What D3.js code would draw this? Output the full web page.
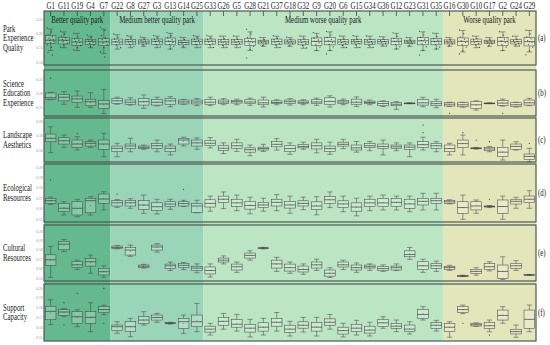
<!DOCTYPE html>
<html><head><meta charset="utf-8">
<script src="https://cdn.jsdelivr.net/npm/d3@7"></script>
<style>body{margin:0;background:#fff}</style>
</head><body><svg id="c" width="550" height="345"></svg>
<script>
const groups = ["G1","G11","G19","G4","G7","G22","G8","G27","G3","G13","G14","G25","G33","G26","G5","G28","G21","G37","G18","G32","G9","G20","G6","G15","G34","G36","G12","G23","G31","G35","G16","G30","G10","G17","G2","G24","G29"];
const regionNames = ["Better quality park","Medium better quality park","Medium worse quality park","Worse quality park"];
const regionCounts = [5,7,18,7];
const regionColors = ["#64ba8e","#9bd5b8","#bce5c4","#e3e5bb"];
const panelTitles = [["Park","Experience","Quality"],["Science","Education","Experience"],["Landscape","Aesthetics"],["Ecological","Resources"],["Cultural","Resources"],["Support","Capacity"]];
const panelTags = ["(a)","(b)","(c)","(d)","(e)","(f)"];
const panelTicks = [[0.10,0.15,0.20,0.25],[0.15,0.20,0.25],[0.16,0.18,0.20],[0.15,0.16,0.17,0.18,0.19,0.20],[0.15,0.16,0.17,0.18,0.19,0.20],[0.15,0.16,0.17,0.18,0.19,0.20]];

// [low whisker, q1, median, q3, high whisker] per park
const statsA = [[0.14,0.165,0.176,0.192,0.215],[0.15,0.163,0.176,0.186,0.205],[0.14,0.158,0.170,0.181,0.20],[0.15,0.162,0.172,0.179,0.19],[0.13,0.158,0.170,0.182,0.215],[0.145,0.160,0.170,0.180,0.195],[0.15,0.162,0.171,0.179,0.19],[0.155,0.163,0.170,0.177,0.185],[0.15,0.162,0.172,0.180,0.19],[0.145,0.160,0.172,0.184,0.20],[0.15,0.160,0.168,0.176,0.185],[0.15,0.162,0.172,0.180,0.19],[0.15,0.162,0.172,0.180,0.19],[0.15,0.160,0.170,0.178,0.19],[0.15,0.162,0.170,0.178,0.19],[0.14,0.158,0.171,0.182,0.205],[0.155,0.163,0.170,0.176,0.185],[0.15,0.162,0.171,0.180,0.19],[0.155,0.163,0.170,0.177,0.185],[0.148,0.160,0.170,0.179,0.19],[0.14,0.158,0.172,0.184,0.20],[0.14,0.160,0.172,0.185,0.205],[0.15,0.162,0.170,0.178,0.19],[0.15,0.163,0.171,0.178,0.19],[0.15,0.162,0.170,0.178,0.19],[0.155,0.163,0.171,0.178,0.188],[0.145,0.160,0.172,0.183,0.20],[0.155,0.164,0.170,0.176,0.185],[0.14,0.160,0.174,0.186,0.205],[0.145,0.160,0.172,0.182,0.20],[0.155,0.163,0.170,0.177,0.185],[0.135,0.158,0.172,0.184,0.21],[0.15,0.162,0.171,0.180,0.19],[0.155,0.164,0.170,0.176,0.185],[0.14,0.158,0.172,0.185,0.205],[0.155,0.163,0.171,0.178,0.19],[0.135,0.156,0.171,0.185,0.21]];
const pointsA = [[0.219,0.205,0.196,0.188,0.183,0.178,0.175,0.171,0.168,0.160,0.152,0.134,0.124],[0.208,0.197,0.190,0.184,0.179,0.175,0.171,0.166,0.160,0.152],[0.200,0.188,0.181,0.176,0.172,0.168,0.163,0.158,0.150,0.142],[0.194,0.186,0.180,0.176,0.173,0.169,0.165,0.160,0.153],[0.222,0.210,0.192,0.184,0.178,0.172,0.166,0.160,0.150,0.135,0.117],[0.198,0.186,0.180,0.175,0.171,0.166,0.160,0.150],[0.192,0.184,0.178,0.174,0.170,0.166,0.162,0.154],[0.188,0.180,0.176,0.172,0.169,0.165,0.160],[0.193,0.184,0.179,0.175,0.171,0.167,0.162,0.153],[0.203,0.192,0.184,0.178,0.173,0.168,0.162,0.155,0.146],[0.187,0.178,0.173,0.169,0.166,0.162,0.155],[0.192,0.184,0.179,0.175,0.171,0.167,0.161,0.152],[0.193,0.183,0.178,0.174,0.170,0.166,0.161,0.151],[0.190,0.181,0.176,0.172,0.168,0.164,0.158,0.151],[0.191,0.180,0.176,0.172,0.169,0.165,0.160,0.152],[0.214,0.198,0.186,0.180,0.174,0.169,0.163,0.155,0.144,0.114],[0.186,0.178,0.174,0.171,0.168,0.164,0.157],[0.192,0.183,0.178,0.173,0.169,0.165,0.159,0.151],[0.187,0.178,0.174,0.171,0.167,0.164,0.157],[0.191,0.181,0.176,0.172,0.168,0.164,0.158,0.149],[0.203,0.190,0.183,0.177,0.172,0.167,0.161,0.152,0.141],[0.207,0.194,0.186,0.179,0.174,0.168,0.162,0.153,0.141,0.128],[0.191,0.181,0.176,0.172,0.168,0.164,0.158,0.151],[0.192,0.180,0.176,0.172,0.169,0.165,0.160,0.151],[0.191,0.180,0.175,0.171,0.168,0.164,0.158,0.151],[0.189,0.179,0.175,0.172,0.169,0.165,0.159,0.156],[0.202,0.190,0.182,0.177,0.172,0.167,0.161,0.153,0.146],[0.186,0.177,0.173,0.170,0.167,0.164,0.156],[0.207,0.195,0.186,0.180,0.175,0.169,0.163,0.153,0.141,0.124],[0.201,0.189,0.181,0.176,0.171,0.166,0.161,0.152,0.146],[0.186,0.177,0.173,0.170,0.167,0.164,0.156],[0.212,0.199,0.187,0.180,0.174,0.168,0.162,0.152,0.140,0.128],[0.191,0.182,0.177,0.173,0.169,0.165,0.160,0.151],[0.186,0.177,0.173,0.170,0.167,0.164,0.156],[0.206,0.194,0.186,0.180,0.174,0.168,0.162,0.152,0.141],[0.190,0.180,0.175,0.172,0.168,0.165,0.160,0.156],[0.211,0.198,0.188,0.181,0.175,0.169,0.162,0.152,0.139,0.125]];

const statsB = [[0.176,0.178,0.183,0.200,0.202],[0.160,0.172,0.185,0.195,0.205],[0.149,0.167,0.179,0.189,0.207],[0.149,0.155,0.169,0.1775,0.201],[0.127,0.145,0.161,0.1725,0.213],[0.160,0.163,0.172,0.181,0.185],[0.157,0.160,0.167,0.175,0.183],[0.145,0.157,0.169,0.181,0.193],[0.154,0.157,0.167,0.1775,0.185],[0.151,0.160,0.172,0.181,0.187],[0.160,0.161,0.168,0.175,0.177],[0.155,0.161,0.168,0.175,0.180],[0.155,0.160,0.167,0.177,0.185],[0.158,0.163,0.168,0.175,0.180],[0.158,0.164,0.169,0.174,0.178],[0.156,0.162,0.168,0.176,0.182],[0.150,0.158,0.165,0.175,0.185],[0.158,0.162,0.166,0.172,0.176],[0.157,0.163,0.169,0.175,0.180],[0.158,0.163,0.167,0.172,0.176],[0.156,0.162,0.168,0.176,0.182],[0.150,0.160,0.170,0.183,0.190],[0.158,0.163,0.168,0.173,0.178],[0.152,0.160,0.167,0.178,0.186],[0.158,0.162,0.166,0.171,0.175],[0.152,0.1546,0.1625,0.169,0.172],[0.1418,0.1546,0.160,0.1668,0.169],[0.162,0.1625,0.1632,0.1643,0.165],[0.151,0.157,0.165,0.1775,0.1846],[0.1475,0.1546,0.162,0.1704,0.1775],[0.152,0.1536,0.160,0.1653,0.167],[0.149,0.151,0.158,0.1653,0.167],[0.139,0.1454,0.158,0.169,0.172],[0.162,0.1625,0.163,0.1643,0.165],[0.153,0.156,0.164,0.1725,0.1786],[0.150,0.151,0.158,0.1653,0.167],[0.155,0.157,0.165,0.175,0.181]];
const outliersB = [[0,0.253],[30,0.1275],[34,0.1275]];

const statsC = [[0.1562,0.1716,0.1764,0.1824,0.1926],[0.1638,0.1684,0.173,0.1772,0.181],[0.160,0.1638,0.1684,0.174,0.1786],[0.1638,0.1656,0.1694,0.1716,0.174],[0.1506,0.161,0.1684,0.174,0.1834],[0.1506,0.1576,0.1624,0.1656,0.1694],[0.1576,0.1624,0.1656,0.1684,0.1764],[0.161,0.1624,0.1638,0.1656,0.167],[0.1576,0.1624,0.166,0.1694,0.174],[0.153,0.1576,0.1624,0.1656,0.1684],[0.1656,0.1684,0.174,0.1764,0.178],[0.161,0.1656,0.170,0.174,0.177],[0.163,0.1665,0.1695,0.1735,0.1775],[0.155,0.1595,0.1625,0.166,0.170],[0.158,0.1625,0.166,0.170,0.175],[0.152,0.157,0.1605,0.163,0.167],[0.158,0.160,0.162,0.164,0.168],[0.160,0.1645,0.168,0.172,0.176],[0.154,0.158,0.162,0.166,0.170],[0.161,0.163,0.165,0.168,0.171],[0.156,0.1615,0.166,0.170,0.175],[0.154,0.158,0.162,0.1655,0.171],[0.162,0.1655,0.168,0.171,0.175],[0.157,0.160,0.163,0.167,0.172],[0.159,0.1635,0.166,0.169,0.172],[0.153,0.1624,0.165,0.1684,0.174],[0.159,0.1624,0.1645,0.167,0.170],[0.1506,0.161,0.164,0.167,0.170],[0.160,0.1638,0.1675,0.1717,0.178],[0.1576,0.1624,0.166,0.1694,0.1717],[0.153,0.1576,0.162,0.167,0.1694],[0.153,0.1638,0.169,0.174,0.181],[0.1612,0.1618,0.1624,0.163,0.1636],[0.1576,0.159,0.1615,0.1638,0.165],[0.146,0.1506,0.157,0.1638,0.174],[0.160,0.161,0.165,0.1684,0.1717],[0.1436,0.147,0.151,0.1544,0.1624]];
const outliersC = [[2,0.183],[28,0.1843],[28,0.195],[31,0.1843],[32,0.174],[33,0.1717],[36,0.1694]];

const statsD = [[0.164,0.1651,0.1676,0.1699,0.171],[0.1538,0.157,0.1603,0.1651,0.1666],[0.1522,0.1538,0.1603,0.1666,0.1689],[0.1538,0.156,0.1676,0.1699,0.1714],[0.1586,0.1651,0.1692,0.174,0.1762],[0.1612,0.1625,0.1656,0.1676,0.1686],[0.1603,0.1625,0.1656,0.1676,0.1695],[0.1555,0.1593,0.1634,0.1676,0.173],[0.1548,0.158,0.1618,0.1656,0.1689],[0.1593,0.1618,0.1644,0.1666,0.1689],[0.162,0.1625,0.1648,0.1666,0.168],[0.156,0.1561,0.1625,0.1651,0.168],[0.1575,0.1615,0.165,0.1685,0.172],[0.160,0.166,0.169,0.172,0.176],[0.158,0.162,0.1655,0.169,0.173],[0.155,0.1595,0.163,0.167,0.171],[0.1575,0.161,0.1635,0.166,0.170],[0.158,0.1625,0.166,0.169,0.1735],[0.1555,0.1605,0.1635,0.167,0.172],[0.159,0.1625,0.165,0.1675,0.171],[0.154,0.159,0.1625,0.1665,0.1715],[0.161,0.165,0.1685,0.1715,0.176],[0.157,0.161,0.1645,0.1675,0.172],[0.153,0.1575,0.1615,0.1655,0.170],[0.158,0.162,0.1655,0.169,0.172],[0.1587,0.1618,0.1655,0.1699,0.173],[0.1587,0.1618,0.166,0.1699,0.172],[0.157,0.1603,0.1645,0.169,0.172],[0.1587,0.1635,0.167,0.1699,0.1747],[0.1587,0.1651,0.1676,0.1699,0.1747],[0.1645,0.1651,0.1665,0.1676,0.1685],[0.1497,0.1555,0.161,0.1666,0.173],[0.1555,0.1587,0.1625,0.1666,0.1683],[0.161,0.1615,0.162,0.1625,0.163],[0.1497,0.1555,0.162,0.1683,0.172],[0.1603,0.1644,0.167,0.169,0.1709],[0.1603,0.1657,0.169,0.1721,0.1772]];
const outliersD = [[0,0.1874],[5,0.174],[10,0.1785],[33,0.169]];

const statsE = [[0.1507,0.1635,0.1694,0.1747,0.1836],[0.178,0.180,0.186,0.1889,0.191],[0.159,0.1613,0.164,0.1677,0.169],[0.155,0.1627,0.1673,0.1709,0.1744],[0.1507,0.1532,0.1567,0.1603,0.163],[0.181,0.1815,0.1825,0.184,0.1845],[0.173,0.1744,0.1797,0.1825,0.185],[0.1605,0.1613,0.1625,0.1638,0.1645],[0.1775,0.1797,0.183,0.185,0.1866],[0.158,0.1603,0.163,0.1648,0.167],[0.159,0.1613,0.1635,0.1656,0.1665],[0.1555,0.158,0.1605,0.1621,0.165],[0.151,0.1543,0.158,0.1617,0.165],[0.165,0.167,0.169,0.1712,0.1735],[0.156,0.1585,0.162,0.1648,0.167],[0.169,0.1712,0.174,0.1765,0.179],[0.181,0.1815,0.1818,0.1822,0.1826],[0.157,0.1606,0.165,0.169,0.172],[0.155,0.1574,0.161,0.1648,0.167],[0.154,0.1564,0.159,0.1627,0.165],[0.158,0.1606,0.164,0.167,0.170],[0.1505,0.152,0.155,0.1585,0.161],[0.159,0.1617,0.164,0.167,0.169],[0.156,0.1585,0.161,0.1638,0.166],[0.158,0.1606,0.162,0.1638,0.165],[0.157,0.1577,0.160,0.162,0.164],[0.158,0.1585,0.161,0.1627,0.165],[0.1698,0.1726,0.175,0.1789,0.1825],[0.156,0.1592,0.163,0.1673,0.170],[0.157,0.1603,0.163,0.1656,0.168],[0.158,0.1592,0.161,0.162,0.1635],[0.1515,0.1518,0.1521,0.1525,0.153],[0.153,0.155,0.157,0.1592,0.161],[0.1575,0.1592,0.162,0.1656,0.1673],[0.1485,0.1497,0.157,0.1638,0.1726],[0.158,0.1603,0.163,0.1656,0.1684],[0.1528,0.153,0.1532,0.1535,0.1538]];
const outliersE = [];

const statsF = [[0.1625,0.1676,0.1762,0.1813,0.188],[0.171,0.1721,0.1755,0.1778,0.179],[0.1605,0.164,0.1707,0.1758,0.1778],[0.1554,0.164,0.1701,0.1758,0.185],[0.1728,0.1748,0.178,0.181,0.1825],[0.1538,0.1564,0.1605,0.1622,0.1656],[0.1503,0.1554,0.1605,0.1656,0.169],[0.1622,0.164,0.1673,0.1707,0.1758],[0.165,0.1673,0.1699,0.1724,0.1741],[0.1632,0.1636,0.164,0.1646,0.165],[0.1537,0.1588,0.1656,0.169,0.1724],[0.1554,0.1605,0.1656,0.1724,0.1843],[0.152,0.155,0.158,0.161,0.164],[0.158,0.162,0.166,0.170,0.174],[0.156,0.160,0.163,0.168,0.173],[0.150,0.155,0.159,0.163,0.168],[0.152,0.156,0.160,0.1645,0.169],[0.156,0.161,0.165,0.169,0.175],[0.151,0.1545,0.158,0.162,0.166],[0.155,0.159,0.162,0.1655,0.170],[0.151,0.156,0.160,0.165,0.170],[0.158,0.162,0.165,0.1685,0.173],[0.150,0.153,0.1565,0.160,0.164],[0.152,0.1555,0.159,0.163,0.167],[0.151,0.154,0.157,0.161,0.165],[0.1589,0.1605,0.1645,0.1681,0.1707],[0.1554,0.1589,0.161,0.164,0.1673],[0.153,0.1554,0.158,0.1622,0.1656],[0.1673,0.1691,0.173,0.1783,0.181],[0.156,0.1589,0.162,0.1646,0.167],[0.1497,0.1554,0.160,0.164,0.1656],[0.1738,0.1748,0.178,0.1809,0.1826],[0.161,0.1612,0.1625,0.164,0.1645],[0.1554,0.1589,0.1615,0.1646,0.1673],[0.164,0.1673,0.172,0.1775,0.181],[0.1497,0.1531,0.1555,0.1579,0.1622],[0.1554,0.1589,0.168,0.1775,0.1826]];
const outliersF = [[1,0.185],[1,0.1625],[2,0.1946],[4,0.1997],[4,0.164],[31,0.164],[33,0.152]];

const allStats = [statsA,statsB,statsC,statsD,statsE,statsF];
const allOutliers = [[],outliersB,outliersC,outliersD,outliersE,outliersF];

// ---- layout ----
const X0 = 44, X1 = 536, SX = 0.72;
const panels = [
  {top:11, bottom:65, dom:[0.0895,0.278]},
  {top:70, bottom:116, dom:[0.118,0.282]},
  {top:118, bottom:162, dom:[0.1432,0.2049]},
  {top:164, bottom:222, dom:[0.1471,0.2029]},
  {top:225, bottom:281, dom:[0.1468,0.2064]},
  {top:284, bottom:341, dom:[0.1459,0.2041]}
];
const serif = "'Liberation Serif','Times New Roman',serif";
const svg = d3.select("#c");
const x = d3.scaleBand().domain(groups).range([X0, X1]);
const bw = x.bandwidth();
const boxW = bw * 0.8, capW = bw * 0.4;

function label(parent, tx, ty, str, size, anchor, fill) {
  return parent.append("text").attr("transform", `translate(${tx},${ty}) scale(${SX},1)`)
    .attr("text-anchor", anchor || "start").attr("font-family", serif)
    .attr("font-size", size).attr("fill", fill || "#1a1a1a").text(str);
}

let start = 0;
regionCounts.forEach((n, i) => {
  const xa = x(groups[start]), xb = x(groups[start + n - 1]) + bw;
  svg.append("rect").attr("x", xa).attr("y", panels[0].top).attr("width", xb - xa)
    .attr("height", panels[5].bottom - panels[0].top).attr("fill", regionColors[i]);
  label(svg, (xa + xb) / 2, 22.5, regionNames[i], 9.6, "middle");
  start += n;
});

const ax = svg.append("g").attr("transform", `translate(0,${panels[0].top})`)
  .call(d3.axisTop(x).tickSize(-5).tickFormat(""));
ax.select(".domain").remove();
ax.selectAll(".tick line").attr("stroke", "#333").attr("stroke-width", 0.7);
groups.forEach(gname => label(svg, x(gname) + bw / 2, 8.6, gname, 9.6, "middle"));

panels.forEach((p, pi) => {
  const y = d3.scaleLinear().domain(p.dom).range([p.bottom, p.top]);
  const g = svg.append("g");
  panelTicks[pi].forEach(t => label(g, 42.5, y(t) + 1.6, t.toFixed(2), 5, "end", "#8a8a8a"));
  const lines = panelTitles[pi];
  const mid = (p.top + p.bottom) / 2;
  lines.forEach((l, li) => label(g, 3, mid + 3 + (li - (lines.length - 1) / 2) * 9.5, l, 9.4, "start"));
  label(g, 538, mid + 3, panelTags[pi], 9.4, "start");

  const stats = allStats[pi];
  const bg = g.append("g");
  const col = "#4a4a4a";
  groups.forEach((name, gi) => {
    const s = stats[gi];
    const cx = x(name) + bw / 2;
    bg.append("line").attr("x1", cx).attr("x2", cx).attr("y1", y(s[4])).attr("y2", y(s[3])).attr("stroke", col).attr("stroke-width", 0.55);
    bg.append("line").attr("x1", cx).attr("x2", cx).attr("y1", y(s[1])).attr("y2", y(s[0])).attr("stroke", col).attr("stroke-width", 0.55);
    [s[0], s[4]].forEach(v => bg.append("line").attr("x1", cx - capW / 2).attr("x2", cx + capW / 2)
      .attr("y1", y(v)).attr("y2", y(v)).attr("stroke", col).attr("stroke-width", 0.55));
    bg.append("rect").attr("x", cx - boxW / 2).attr("y", y(s[3])).attr("width", boxW)
      .attr("height", Math.max(0.8, y(s[1]) - y(s[3]))).attr("fill", "rgba(255,255,255,0.22)")
      .attr("stroke", col).attr("stroke-width", 0.55);
    bg.append("line").attr("x1", cx - boxW / 2).attr("x2", cx + boxW / 2).attr("y1", y(s[2])).attr("y2", y(s[2]))
      .attr("stroke", "#333").attr("stroke-width", 0.65);
    bg.append("circle").attr("cx", cx).attr("cy", y((s[1] + s[3]) / 2)).attr("r", 0.45).attr("fill", "#333");
  });
  if (pi === 0) {
    groups.forEach((name, gi) => {
      const cx = x(name) + bw / 2;
      pointsA[gi].forEach((v, k) => {
        const j = ((k * 5) % 9 - 4) * 0.85;
        bg.append("circle").attr("cx", cx + j).attr("cy", y(v)).attr("r", 0.6).attr("fill", "#222").attr("opacity", 0.85);
      });
    });
  }
  allOutliers[pi].forEach(o => {
    bg.append("circle").attr("cx", x(groups[o[0]]) + bw / 2).attr("cy", y(o[1])).attr("r", 0.6).attr("fill", "#333");
  });
  g.append("rect").attr("x", X0).attr("y", p.top).attr("width", X1 - X0).attr("height", p.bottom - p.top)
    .attr("fill", "none").attr("stroke", "#4d5a52").attr("stroke-width", 1.2);
});
</script></body></html>
